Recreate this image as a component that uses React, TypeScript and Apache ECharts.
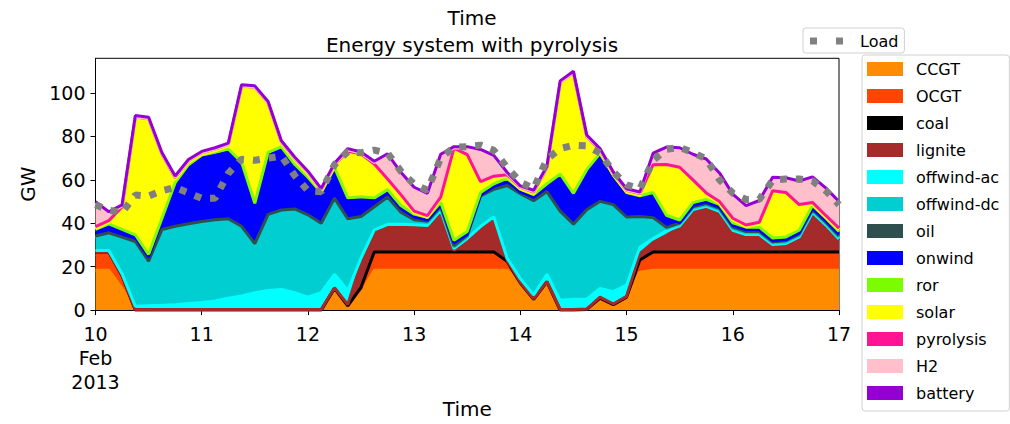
import React, { useEffect, useRef } from 'react';
import * as echarts from 'echarts';

// hours since 2013-02-10 00:00 (3-hourly)
const hours = [0, 3, 6, 9, 12, 15, 18, 21, 24, 27, 30, 33, 36, 39, 42, 45, 48, 51, 54, 57, 60, 63, 66, 69, 72, 75, 78, 81, 84, 87, 90, 93, 96, 99, 102, 105, 108, 111, 114, 117, 120, 123, 126, 129, 132, 135, 138, 141, 144, 147, 150, 153, 156, 159, 162, 165, 168];

const dayLabels = ['10\nFeb\n2013', '11', '12', '13', '14', '15', '16', '17'];

const names = ['CCGT', 'OCGT', 'coal', 'lignite', 'offwind-ac', 'offwind-dc', 'oil', 'onwind', 'ror', 'solar', 'pyrolysis', 'H2', 'battery'];
const colors = ['#FF8C00', '#FF4500', '#000000', '#A52A2A', '#00FFFF', '#00CED1', '#2F4F4F', '#0000FF', '#7CFC00', '#FFFF00', '#FF1493', '#FFC0CB', '#9400D3'];

const CCGT = [18.4, 18.4, 10, 0, 0, 0, 0, 0, 0, 0, 0, 0, 0, 0, 0, 0, 0, 0, 10, 2, 8, 18.4, 18.4, 18.4, 18.4, 18.4, 18.4, 18.4, 18.4, 18.4, 18.4, 18.4, 12.5, 5, 13, 0, 0, 0.3, 5.5, 2.5, 6, 17.5, 18.4, 18.4, 18.4, 18.4, 18.4, 18.4, 18.4, 18.4, 18.4, 18.4, 18.4, 18.4, 18.4, 18.4, 18.4];
const OCGT = [7.2, 7.2, 5, 0, 0, 0, 0, 0, 0, 0, 0, 0, 0, 0, 0, 0, 0, 0, 0, 0, 2, 7.2, 7.2, 7.2, 7.2, 7.2, 7.2, 7.2, 7.2, 7.2, 7.2, 3.5, 0, 0, 0, 0, 0, 0, 0, 0, 0, 5, 7.2, 7.2, 7.2, 7.2, 7.2, 7.2, 7.2, 7.2, 7.2, 7.2, 7.2, 7.2, 7.2, 7.2, 7.2];
const coal = [1.2, 1.2, 0.8, 0, 0, 0, 0, 0, 0, 0, 0, 0, 0, 0, 0, 0, 0, 0, 0, 0, 0.5, 1.2, 1.2, 1.2, 1.2, 1.2, 1.2, 1.2, 1.2, 1.2, 1.2, 0.6, 0, 0, 0, 0, 0, 0, 0, 0, 0, 0.6, 1.2, 1.2, 1.2, 1.2, 1.2, 1.2, 1.2, 1.2, 1.2, 1.2, 1.2, 1.2, 1.2, 1.2, 1.2];
const lignite = [0, 0, 0.2, 0.3, 0.3, 0.3, 0.3, 0.3, 0.3, 0.3, 0.3, 0.3, 0.3, 0.3, 0.3, 0.3, 0.3, 0.3, 0.3, 0.5, 11.5, 8.9, 11.2, 11.4, 11.5, 11.2, 18.2, 0.7, 5.2, 10.7, 15.2, 0.5, 0.3, 0.2, 0.2, 0.3, 0.3, 0.2, 0.5, 0.3, 0.3, 2.9, 4.4, 7.7, 11.2, 18.7, 20.2, 17.9, 9.2, 7.2, 7.2, 2.7, 3.2, 6.2, 17.5, 11.8, 5.2];
const offwindAc = [0.7, 0.7, 0.8, 1.5, 1.7, 1.9, 2.2, 2.7, 3.2, 3.9, 5.2, 6.2, 7.7, 8.7, 9.2, 7.7, 5.7, 7.7, 6.2, 6.5, 2, 1.3, 1.5, 1.3, 1, 1, 1, 0.8, 1, 1, 1, 1, 1.7, 1.8, 3.3, 4.2, 4.7, 4.5, 4, 5.7, 5.2, 3, 1.8, 2, 0.8, 0.8, 0.8, 0.8, 0.8, 0.8, 0.8, 0.7, 0.7, 0.7, 0.7, 0.7, 0.8];
const offwindDc = [6, 7.5, 16.2, 29.2, 20, 34.3, 35.5, 36.2, 36.7, 36.8, 36, 31.5, 22, 34.5, 36, 38, 37.3, 31.4, 34.5, 32.5, 18.5, 10, 12, 5, 1.7, 1.3, 1, 0.7, 0.8, 13.5, 12, 32.8, 38.5, 42.8, 37.5, 40.5, 34, 40.6, 39.5, 39.5, 30.8, 13.5, 9, 1, 0.7, 0.7, 0.7, 0.8, 0.8, 0.8, 0.8, 0.7, 0.7, 0.7, 0.7, 0.7, 0.7];
const oil = [0.6, 0.6, 0.6, 0.6, 0.6, 0.6, 0.6, 0.6, 0.6, 0.6, 0.6, 0.6, 0.6, 0.6, 0.6, 0.6, 0.6, 0.6, 0.6, 0.6, 0.6, 0.6, 0.6, 0.6, 0.6, 0.6, 0.6, 0.6, 0.6, 0.6, 0.6, 0.6, 0.6, 0.6, 0.6, 0.6, 0.6, 0.6, 0.6, 0.6, 0.6, 0.6, 0.6, 0.6, 0.6, 0.6, 0.6, 0.6, 0.6, 0.6, 0.6, 0.6, 0.6, 0.6, 0.6, 0.6, 0.6];
const onwind = [1.9, 2.9, 2.4, 1.9, 1.9, 3.9, 18.9, 26, 29.4, 29.9, 30.9, 28.4, 17.4, 27.4, 27.9, 19.4, 16.1, 13, 12.9, 8.4, 7.9, 2.9, 2.2, 1.9, 1.4, 0.6, 0.9, 1.4, 0.6, 0.4, 1.4, 2.1, 0.9, 1.6, 2.4, 15.9, 13, 17.3, 20.9, 12.4, 10.1, 8.4, 10.4, 4.4, 0.2, 0.7, 0.7, 0.6, 0.8, 0.8, 0.8, 0.5, 0.5, 0.6, 0.7, 0.7, 0.9];
const ror = [1.2, 1.2, 1.2, 1.2, 1.2, 1.2, 1.2, 1.2, 1.2, 1.2, 1.2, 1.2, 1.2, 1.2, 1.2, 1.2, 1.2, 1.2, 1.2, 1.2, 1.2, 1.2, 1.2, 1.2, 1.2, 1.2, 1.2, 1.2, 1.2, 1.2, 1.2, 1.2, 1.2, 1.2, 1.2, 1.2, 1.2, 1.2, 1.2, 1.2, 1.2, 1.2, 1.2, 1.2, 1.2, 1.2, 1.2, 1.2, 1.2, 1.2, 1.2, 1.2, 1.2, 1.2, 1.2, 1.2, 1.2];
const solar = [0.5, 0.7, 9.5, 53.5, 61.7, 29, 1.5, 1, 0.3, 0.7, 1.3, 34.2, 52.7, 22, 1.4, 1.9, 1.4, 0.4, 0.5, 20.7, 19, 14.8, 4.1, 4.2, 0.6, 0, 1.5, 41.6, 34.6, 4.2, 2.7, 0.8, 0, 0.4, 6.6, 41.5, 54.8, 14.5, 0.7, 0, 0.2, 0.2, 12, 22.6, 23.5, 9.7, 2.2, 0.5, 1.3, 0.2, 1.5, 21, 19.7, 11, 0.6, 0.3, 0.8];
const pyrolysis = [0.8, 0.8, 0.8, 0.8, 0.8, 0.8, 0.8, 0.8, 0.8, 0.8, 0.8, 0.8, 0.8, 0.8, 0.8, 0.8, 0.8, 0.8, 0.8, 0.8, 0.8, 0.8, 0.8, 0.8, 0.8, 0.8, 0.8, 0.8, 0.8, 0.8, 0.8, 0.8, 0.8, 0.8, 0.8, 0.8, 0.8, 0.8, 0.8, 0.8, 0.8, 0.8, 0.8, 0.8, 0.8, 0.8, 0.8, 0.8, 0.8, 0.8, 0.8, 0.8, 0.8, 0.8, 0.8, 0.8, 0.8];
const H2 = [10.9, 3.5, 0.4, 0, 0, 0, 0.2, 0, 0, 0, 0, 0, 0, 0, 0, 0, 0, 0, 0, 0.6, 0.2, 0.7, 11, 9.7, 10.4, 9.7, 19.2, 0.1, 3.1, 14.2, 9, 0.6, 0.1, 0.2, 0.1, 0, 0, 0.1, 0.1, 0, 0.1, 0.1, 4.7, 7.4, 8.4, 11.2, 15, 12.6, 10.5, 8.3, 9.4, 5.6, 6.2, 10.3, 11.2, 12.1, 11.6];
const battery = [0.6, 0.6, 0.6, 0.6, 0.6, 0.6, 0.6, 0.6, 0.6, 0.6, 0.6, 0.6, 0.6, 0.6, 0.6, 0.6, 0.6, 0.6, 0.6, 0.6, 0.6, 0.6, 0.6, 0.6, 0.6, 0.6, 0.6, 0.6, 0.6, 0.6, 0.6, 0.6, 0.6, 0.6, 0.6, 0.6, 0.6, 0.6, 0.6, 0.6, 0.6, 0.6, 0.6, 0.6, 0.6, 0.6, 0.6, 0.6, 0.6, 0.6, 0.6, 0.6, 0.6, 0.6, 0.6, 0.6, 0.6];
const load = [48.5, 46, 45, 53, 52.5, 55, 56.5, 54, 51.5, 51.5, 63, 69.5, 69, 70, 71, 62, 55, 54.5, 67, 73, 72.5, 73.7, 72.3, 64, 58, 55.2, 70, 75, 75.3, 76, 73.6, 65.7, 59, 56, 69.5, 74.4, 76, 75.7, 72.4, 63.7, 57.7, 55.8, 69, 74.1, 75, 72.6, 69.6, 60, 53.9, 51, 51, 59.8, 60.4, 60.4, 59.5, 55, 48.5];

const seriesValues = [CCGT, OCGT, coal, lignite, offwindAc, offwindDc, oil, onwind, ror, solar, pyrolysis, H2, battery];

const FONT = 'DejaVu Sans';

export default function App() {
  const ref = useRef<HTMLDivElement>(null);
  useEffect(() => {
    if (!ref.current) return;
    const chart = echarts.init(ref.current, undefined, { renderer: 'svg' });
    const areaSeries = names.map((n, k) => ({
      name: n,
      type: 'line',
      stack: 'area',
      data: seriesValues[k],
      symbol: 'none',
      lineStyle: { width: 0, color: colors[k] },
      itemStyle: { color: colors[k] },
      areaStyle: { color: colors[k], opacity: 1 },
      z: 2,
    }));
    const edgeSeries = names.map((n, k) => ({
      name: n + ' edge',
      type: 'line',
      stack: 'edge',
      data: seriesValues[k],
      symbol: 'none',
      silent: true,
      lineStyle: { width: 3, color: colors[k] },
      itemStyle: { color: colors[k] },
      z: 3,
    }));
    const isDay = (index: number) => index % 8 === 0;
    const option: any = {
      animation: false,
      backgroundColor: '#ffffff',
      textStyle: { fontFamily: FONT },
      title: [
        { text: 'Time', left: 467, top: 3, textAlign: 'center', textStyle: { fontFamily: FONT, fontSize: 20, fontWeight: 'normal', color: '#000' } },
        { text: 'Energy system with pyrolysis', left: 467, top: 30, textAlign: 'center', textStyle: { fontFamily: FONT, fontSize: 20, fontWeight: 'normal', color: '#000' } },
      ],
      grid: { left: 95.5, right: 171, top: 58.3, bottom: 105.7, show: true, borderColor: '#000', borderWidth: 1, backgroundColor: 'transparent' },
      xAxis: {
        type: 'category', data: hours.map(String), boundaryGap: false,
        name: 'Time', nameLocation: 'middle', nameGap: 84,
        nameTextStyle: { fontFamily: FONT, fontSize: 20, color: '#000' },
        axisLine: { show: true, onZero: false, lineStyle: { color: '#000', width: 1 } },
        axisTick: { show: true, length: 5, interval: isDay, lineStyle: { color: '#000' } },
        axisLabel: {
          margin: 12, fontSize: 19, lineHeight: 24, color: '#000', fontFamily: FONT,
          interval: isDay,
          formatter: (_v: string, index: number) => dayLabels[index / 8] ?? '',
        },
        splitLine: { show: false },
      },
      yAxis: {
        type: 'value', min: 0, max: 116, interval: 20,
        name: 'GW', nameLocation: 'middle', nameGap: 55, nameRotate: 90,
        nameTextStyle: { fontFamily: FONT, fontSize: 20, color: '#000' },
        axisLine: { show: true, lineStyle: { color: '#000', width: 1 } },
        axisTick: { show: true, length: 5, lineStyle: { color: '#000' } },
        axisLabel: { margin: 10, fontSize: 19, color: '#000', fontFamily: FONT, showMaxLabel: false },
        splitLine: { show: false },
      },
      legend: [
        {
          data: names,
          orient: 'vertical',
          left: 862, top: 55,
          padding: [6, 10, 10, 5],
          icon: 'rect',
          itemWidth: 36, itemHeight: 14, itemGap: 11,
          borderColor: '#d0d0d0', borderWidth: 1, borderRadius: 3,
          backgroundColor: '#ffffff',
          textStyle: { fontFamily: FONT, fontSize: 16, color: '#000', lineHeight: 14, padding: [0, 0, 0, 8] },
          selectedMode: false,
        },
        {
          data: ['Load'],
          orient: 'vertical',
          left: 803, top: 28,
          padding: [5, 6, 4, 7],
          icon: 'path://M0,0h7v7h-7zM26,0h7v7h-7z',
          itemWidth: 33, itemHeight: 7,
          borderColor: '#d0d0d0', borderWidth: 1, borderRadius: 3,
          backgroundColor: '#ffffff',
          textStyle: { fontFamily: FONT, fontSize: 16, color: '#000', lineHeight: 16, padding: [0, 0, 0, 12] },
          selectedMode: false,
        },
      ],
      series: [
        ...areaSeries,
        ...edgeSeries,
        {
          name: 'Load',
          type: 'line',
          data: load,
          symbol: 'none',
          itemStyle: { color: '#808080' },
          lineStyle: { color: '#808080', width: 7, type: [7, 9], cap: 'butt' },
          z: 5,
        },
      ],
    };
    chart.setOption(option);
    return () => chart.dispose();
  }, []);
  return <div ref={ref} style={{ position: 'fixed', left: 0, top: 0, width: 1010, height: 424 }} />;
}
